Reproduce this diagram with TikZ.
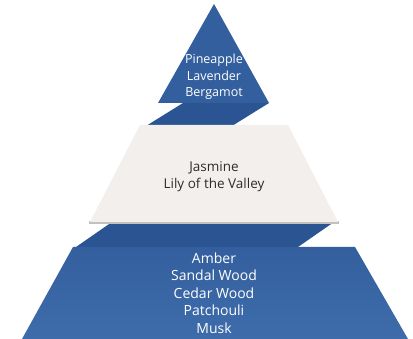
\documentclass[tikz,border=0pt]{standalone}
\usepackage{fontspec}
\setmainfont{Open Sans}
\definecolor{tierblue}{RGB}{52,95,158}
\definecolor{tierblueL}{RGB}{62,108,170}
\definecolor{sideblue}{RGB}{42,84,146}
\definecolor{tierwhite}{RGB}{242,239,236}
\definecolor{tiershadow}{RGB}{196,192,190}
\definecolor{darktext}{RGB}{45,45,45}

\begin{document}
\begin{tikzpicture}[x=1pt,y=1pt]
    \useasboundingbox (0,0) rectangle (413,339);

    % Slanted side faces between the tiers
    \fill[sideblue] (183,236) -- (269,236) -- (232,213) -- (146,213) -- cycle;
    \fill[sideblue] (112,117) -- (334,117) -- (298,92) -- (76,92) -- cycle;

    % Top tier
    \fill[tierblue] (214,335) -- (269,236) -- (158,236) -- cycle;
    \node[white, align=center, font=\fontsize{12.5}{16.5}\selectfont] (top) at (214,262)
        {Pineapple\\Lavender\\Bergamot};

    % Middle tier
    \fill[tiershadow] (89,115) -- (339,115) -- (339,118) -- (89,118) -- cycle;
    \fill[tierwhite] (140,214) -- (288,214) -- (338,117) -- (90,117) -- cycle;
    \node[darktext, align=center, font=\fontsize{13.5}{17}\selectfont] (middle) at (214,162.5)
        {Jasmine\\Lily of the Valley};

    % Bottom tier
    \shade[top color=tierblue, bottom color=tierblueL] (73,92) -- (355,92) -- (408,0) -- (22,0) -- cycle;
    \node[white, align=center, font=\fontsize{14}{17.5}\selectfont] (bottom) at (214,46)
        {Amber\\Sandal Wood\\Cedar Wood\\Patchouli\\Musk};

\end{tikzpicture}
\end{document}
